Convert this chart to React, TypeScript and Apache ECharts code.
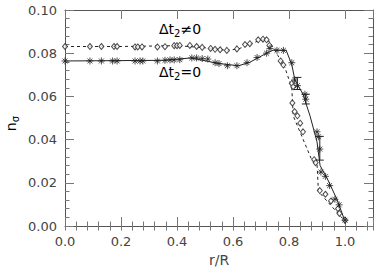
import React, { useEffect, useRef } from "react";
import * as echarts from "echarts";

// Δt2≠0 : measured points (diamonds) and dashed guide curve
const diamondR = [0.0, 0.089, 0.13, 0.175, 0.186, 0.25, 0.26, 0.275, 0.33, 0.357, 0.39, 0.4, 0.41, 0.446, 0.47, 0.49, 0.52, 0.536, 0.554, 0.578, 0.614, 0.643, 0.66, 0.69, 0.707, 0.72, 0.73, 0.77, 0.78, 0.81, 0.815, 0.812, 0.82, 0.83, 0.84, 0.85, 0.89, 0.895, 0.91, 0.93, 0.95, 0.975, 0.98, 1.0];
const diamondN = [0.0831, 0.0831, 0.0831, 0.0831, 0.0831, 0.0829, 0.0829, 0.0829, 0.0829, 0.083, 0.0835, 0.0835, 0.0836, 0.0836, 0.0831, 0.0827, 0.0822, 0.0818, 0.0816, 0.0813, 0.082, 0.084, 0.0844, 0.0862, 0.0865, 0.0862, 0.0836, 0.0764, 0.0745, 0.066, 0.0645, 0.057, 0.053, 0.051, 0.0476, 0.0436, 0.0307, 0.0293, 0.0164, 0.0147, 0.0116, 0.008, 0.0058, 0.0027];
const dashR = [0.0, 0.2, 0.4, 0.5, 0.58, 0.62, 0.7, 0.73, 0.76, 0.785, 0.81, 0.815, 0.88, 0.9, 0.905, 1.0];
const dashN = [0.0831, 0.0831, 0.0835, 0.0825, 0.0813, 0.082, 0.0862, 0.0855, 0.079, 0.0735, 0.064, 0.051, 0.031, 0.029, 0.016, 0.0022];

// Δt2=0 : measured points (stars) and solid guide curve
const starR = [0.0, 0.089, 0.13, 0.17, 0.186, 0.25, 0.268, 0.278, 0.33, 0.357, 0.375, 0.39, 0.41, 0.453, 0.47, 0.49, 0.51, 0.536, 0.55, 0.58, 0.614, 0.65, 0.686, 0.72, 0.732, 0.757, 0.78, 0.81, 0.82, 0.83, 0.857, 0.86, 0.9, 0.905, 0.91, 0.914, 0.93, 0.945, 0.964, 0.979, 1.0];
const starN = [0.0764, 0.0764, 0.0764, 0.0764, 0.0764, 0.0764, 0.0764, 0.0764, 0.0764, 0.0767, 0.0769, 0.0769, 0.077, 0.0778, 0.0778, 0.0775, 0.0773, 0.0756, 0.0752, 0.0742, 0.0742, 0.0756, 0.078, 0.08, 0.0822, 0.0813, 0.0813, 0.0756, 0.0676, 0.065, 0.061, 0.0587, 0.0436, 0.0413, 0.0356, 0.025, 0.023, 0.0187, 0.0124, 0.0098, 0.0027];
const solidR = [0.0, 0.35, 0.45, 0.55, 0.62, 0.66, 0.72, 0.745, 0.79, 0.81, 0.821, 0.85, 0.875, 0.9, 0.911, 0.939, 0.971, 1.0];
const solidN = [0.0764, 0.0767, 0.0778, 0.0752, 0.0742, 0.0758, 0.08, 0.0815, 0.0813, 0.0747, 0.0676, 0.061, 0.051, 0.039, 0.028, 0.0213, 0.0124, 0.0022];

// error bars on a few Δt2=0 points: r, low, high
const errR = [0.83, 0.86, 0.91];
const errLo = [0.0632, 0.0565, 0.0305];
const errHi = [0.0688, 0.061, 0.0415];

const xTicks = [0, 0.2, 0.4, 0.6, 0.8, 1.0];
const yTicks = [0, 0.02, 0.04, 0.06, 0.08, 0.1];

const STAR = "path://M0,-5L0,5M-5,0L5,0M-3.5,-3.5L3.5,3.5M-3.5,3.5L3.5,-3.5";
const INK = "#222";
const FRAME = "#555";
const TXT = "#444";
const FONT = "DejaVu Sans";

export default function App() {
  const ref = useRef<HTMLDivElement>(null);
  useEffect(() => {
    if (!ref.current) return;
    const chart = echarts.init(ref.current, undefined, { renderer: "svg" });
    const zip = (a: number[], b: number[]) => a.map((v, i) => [v, b[i]]);
    const isMajor = (v: number, list: number[]) => list.some((t) => Math.abs(t - v) < 1e-6);
    const baseX = {
      type: "value" as const,
      min: 0,
      max: 1.1,
      splitLine: { show: false },
      axisLine: { show: true, onZero: false, lineStyle: { color: FRAME, width: 1 } },
    };
    const baseY = {
      type: "value" as const,
      min: 0,
      max: 0.1,
      splitLine: { show: false },
      axisLine: { show: true, onZero: false, lineStyle: { color: FRAME, width: 1 } },
    };
    const tickStyle = { color: "#777", width: 1 };
    const subRich = {
      a: { fontSize: 14, fontFamily: FONT, color: TXT },
      s: { fontSize: 10, fontFamily: FONT, color: TXT, padding: [9, 0, 0, 0] },
    };
    chart.setOption({
      animation: false,
      backgroundColor: "#fff",
      grid: { left: 65, right: 9, top: 10, bottom: 37, containLabel: false },
      xAxis: [
        {
          ...baseX,
          position: "bottom",
          interval: 0.2,
          axisTick: { show: true, inside: true, length: 9, lineStyle: tickStyle },
          axisLabel: {
            show: true,
            margin: 9,
            fontSize: 13,
            fontFamily: FONT,
            color: TXT,
            formatter: (v: number) => (isMajor(v, xTicks) ? v.toFixed(1) : ""),
          },
          name: "r/R",
          nameLocation: "middle",
          nameGap: 27,
          nameTextStyle: { fontSize: 14, fontFamily: FONT, color: TXT },
        },
        {
          ...baseX,
          position: "bottom",
          interval: 0.04,
          axisLine: { show: false },
          axisTick: { show: true, inside: true, length: 4.5, lineStyle: tickStyle },
          axisLabel: { show: false },
        },
        {
          ...baseX,
          position: "top",
          interval: 0.2,
          axisTick: { show: true, inside: true, length: 9, lineStyle: tickStyle },
          axisLabel: { show: false },
        },
        {
          ...baseX,
          position: "top",
          interval: 0.04,
          axisLine: { show: false },
          axisTick: { show: true, inside: true, length: 4.5, lineStyle: tickStyle },
          axisLabel: { show: false },
        },
      ],
      yAxis: [
        {
          ...baseY,
          position: "left",
          interval: 0.02,
          axisTick: { show: true, inside: true, length: 9, lineStyle: tickStyle },
          minorTick: { show: true, splitNumber: 5, length: 4.5, lineStyle: tickStyle },
          axisLabel: {
            show: true,
            margin: 8,
            fontSize: 13,
            fontFamily: FONT,
            color: TXT,
            formatter: (v: number) => (isMajor(v, yTicks) ? v.toFixed(2) : ""),
          },
        },
        {
          ...baseY,
          position: "right",
          interval: 0.02,
          axisTick: { show: true, inside: true, length: 9, lineStyle: tickStyle },
          minorTick: { show: true, splitNumber: 5, length: 4.5, lineStyle: tickStyle },
          axisLabel: { show: false },
        },
      ],
      graphic: [
        {
          type: "text",
          left: 4,
          top: 116,
          rotation: Math.PI / 2,
          style: {
            text: "{a|n}{s|σ}",
            rich: subRich,
          },
        },
        {
          type: "text",
          left: 159,
          top: 22,
          style: { text: "{a|Δt}{s|2}{a|≠0}", rich: subRich },
        },
        {
          type: "text",
          left: 159,
          top: 65,
          style: { text: "{a|Δt}{s|2}{a|=0}", rich: subRich },
        },
      ],
      series: [
        {
          type: "line",
          data: zip(dashR, dashN),
          showSymbol: false,
          symbol: "none",
          lineStyle: { color: INK, width: 1, type: [3, 3] },
          z: 2,
        },
        {
          type: "line",
          data: zip(solidR, solidN),
          showSymbol: false,
          symbol: "none",
          lineStyle: { color: INK, width: 1 },
          z: 2,
        },
        {
          type: "custom",
          data: errR.map((r, i) => [r, errLo[i], errHi[i]]),
          renderItem: (_p: any, api: any) => {
            const lo = api.coord([api.value(0), api.value(1)]);
            const hi = api.coord([api.value(0), api.value(2)]);
            const st = { stroke: INK, lineWidth: 1 };
            return {
              type: "group",
              children: [
                { type: "line", shape: { x1: lo[0], y1: lo[1], x2: hi[0], y2: hi[1] }, style: st },
                { type: "line", shape: { x1: lo[0] - 4, y1: lo[1], x2: lo[0] + 4, y2: lo[1] }, style: st },
                { type: "line", shape: { x1: hi[0] - 4, y1: hi[1], x2: hi[0] + 4, y2: hi[1] }, style: st },
              ],
            };
          },
          z: 3,
        },
        {
          type: "scatter",
          data: zip(diamondR, diamondN),
          symbol: "diamond",
          symbolSize: [5, 6],
          itemStyle: { color: "#fff", borderColor: INK, borderWidth: 1 },
          z: 4,
        },
        {
          type: "scatter",
          data: zip(starR, starN),
          symbol: STAR,
          symbolSize: 7,
          itemStyle: { color: "rgba(0,0,0,0)", borderColor: INK, borderWidth: 1 },
          z: 5,
        },
      ],
    });
    return () => chart.dispose();
  }, []);
  return (
    <div
      ref={ref}
      style={{ position: "fixed", left: 0, top: 0, width: 382, height: 272, background: "#fff" }}
    />
  );
}
